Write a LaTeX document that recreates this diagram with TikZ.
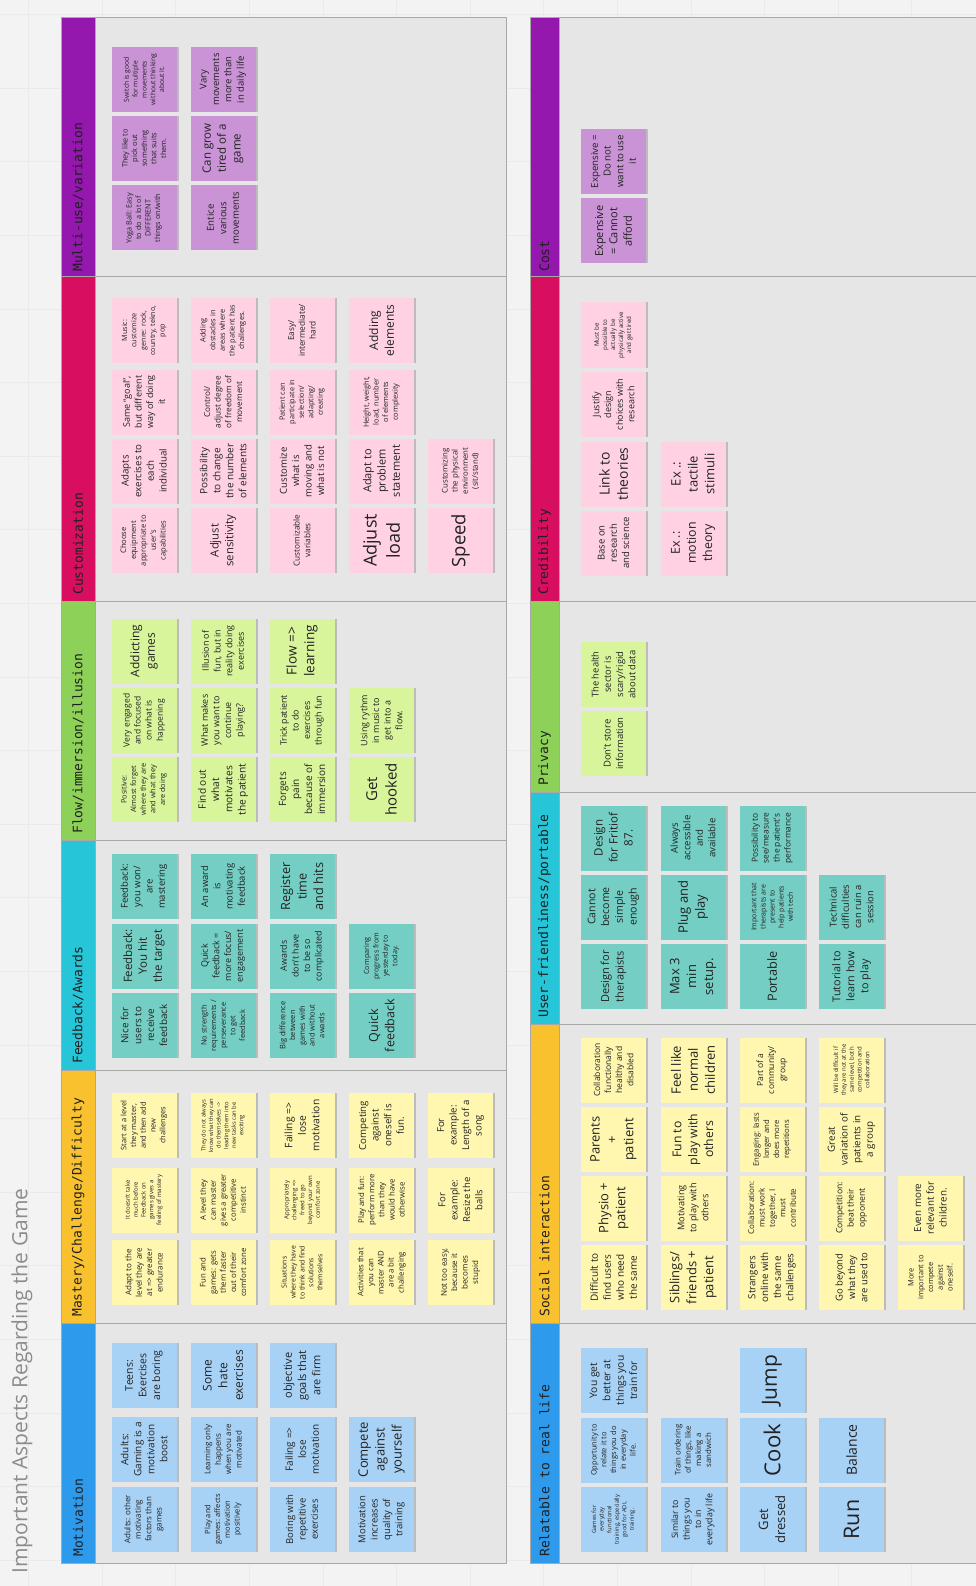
\documentclass[tikz,border=0pt]{standalone}
\usepackage{fontspec}
\setmainfont{Open Sans}
\newfontfamily\hdrfont{DejaVu Sans Mono}
\definecolor{bgpage}{HTML}{F3F3F3}
\definecolor{gridln}{HTML}{EAEAEA}
\definecolor{boardbg}{HTML}{E6E6E6}
\definecolor{boardln}{HTML}{A8A8A8}
\definecolor{hBlue}{HTML}{2D9AEC}
\definecolor{hAmber}{HTML}{F9C12E}
\definecolor{hCyan}{HTML}{26C6D8}
\definecolor{hGreen}{HTML}{8ED159}
\definecolor{hMag}{HTML}{D80F60}
\definecolor{hPurp}{HTML}{9417AE}
\definecolor{nBlue}{HTML}{A7D1F5}
\definecolor{nYellow}{HTML}{FFF7B0}
\definecolor{nTeal}{HTML}{74CEC4}
\definecolor{nGreen}{HTML}{D9F59C}
\definecolor{nPink}{HTML}{FFD1E2}
\definecolor{nPurple}{HTML}{C993D6}
\definecolor{notetext}{HTML}{222222}
\definecolor{hdrtext}{HTML}{202020}
\definecolor{titlegray}{HTML}{8C8C8C}
\begin{document}
\begin{tikzpicture}[x=1pt,y=-1pt,
  note/.style={rotate=90, minimum width=65pt, minimum height=65pt, inner sep=1pt,
    align=center, text=notetext,
    preaction={fill=black, fill opacity=0.18, transform canvas={xshift=2pt}}},
  fs/.style={font={\fontsize{#1}{#1}\linespread{1.3}\selectfont}},
  nb/.style={note, fill=nBlue},
  ny/.style={note, fill=nYellow},
  nt/.style={note, fill=nTeal},
  ng/.style={note, fill=nGreen},
  np/.style={note, fill=nPink},
  nv/.style={note, fill=nPurple},
  hdr/.style={rotate=90, anchor=west, inner sep=0pt, text=hdrtext,
    font={\hdrfont\fontsize{13}{13}\selectfont}},
  board/.style={draw=boardln, line width=1pt, fill=boardbg},
  divider/.style={draw=boardln, line width=1pt},
  titlestyle/.style={rotate=90, anchor=west, inner sep=0pt, text=titlegray,
    font={\fontsize{21}{21}\selectfont}}
]
\useasboundingbox (0,0) rectangle (976,1586);
\fill[bgpage] (0,0) rectangle (976,1586);
\foreach \k in {0,...,13} {\draw[gridln, line width=0.6pt] (28.5+73.6*\k,0) -- (28.5+73.6*\k,1586);}
\foreach \k in {0,...,21} {\draw[gridln, line width=0.6pt] (0,14.5+73.6*\k) -- (976,14.5+73.6*\k);}

% ---------- title ----------
\node[titlestyle] (title) at (22,1574) {Important Aspects Regarding the Game};

% ---------- left board ----------
\path[board] (61,18) rectangle (506,1563);
\fill[hPurp] (61,18) rectangle (95,277);
\fill[hMag] (61,277) rectangle (95,601);
\fill[hGreen] (61,601) rectangle (95,840);
\fill[hCyan] (61,840) rectangle (95,1070);
\fill[hAmber] (61,1070) rectangle (95,1323);
\fill[hBlue] (61,1323) rectangle (95,1563);
\draw[divider] (61,18) rectangle (506,1563);
\draw[divider] (95,18) -- (95,1563);
\foreach \yy in {277,601,840,1070,1323} {\draw[divider] (61,\yy) -- (506,\yy);}

% ---------- right board ----------
\path[board] (530,18) rectangle (976,1563);
\fill[hPurp] (530,18) rectangle (559,277);
\fill[hMag] (530,277) rectangle (559,601);
\fill[hGreen] (530,601) rectangle (559,792);
\fill[hCyan] (530,792) rectangle (559,1024);
\fill[hAmber] (530,1024) rectangle (559,1323);
\fill[hBlue] (530,1323) rectangle (559,1563);
\draw[divider] (530,18) rectangle (976,1563);
\draw[divider] (559,18) -- (559,1563);
\foreach \yy in {277,601,792,1024,1323} {\draw[divider] (530,\yy) -- (976,\yy);}

% ---------- headers ----------
\node[hdr] (hMulti) at (78,272) {Multi-use/variation};
\node[hdr] (hCust) at (78,595) {Customization};
\node[hdr] (hFlow) at (78,834) {Flow/immersion/illusion};
\node[hdr] (hFeed) at (78,1064) {Feedback/Awards};
\node[hdr] (hMast) at (78,1317) {Mastery/Challenge/Difficulty};
\node[hdr] (hMot) at (78,1557) {Motivation};
\node[hdr] (hCost) at (544.5,272) {Cost};
\node[hdr] (hCred) at (544.5,595) {Credibility};
\node[hdr] (hPriv) at (544.5,786) {Privacy};
\node[hdr] (hUser) at (544.5,1018) {User-friendliness/portable};
\node[hdr] (hSoc) at (544.5,1317) {Social interaction};
\node[hdr] (hRel) at (544.5,1557) {Relatable to real life};

% ---------- Motivation ----------
\node[nb, fs=10.5] (mo1) at (144,1375.5) {Teens:\\Exercises\\are boring};
\node[nb, fs=12] (mo2) at (223,1375.5) {Some\\hate\\exercises};
\node[nb, fs=11] (mo3) at (302,1375.5) {objective\\goals that\\are firm};
\node[nb, fs=10] (mo4) at (144,1449.5) {Adults:\\Gaming is a\\motivation\\boost};
\node[nb, fs=8] (mo5) at (223,1449.5) {Learning only\\happens\\when you are\\motivated};
\node[nb, fs=10] (mo6) at (302,1449.5) {Failing =>\\lose\\motivation};
\node[nb, fs=13] (mo7) at (381.5,1449.5) {Compete\\against\\yourself};
\node[nb, fs=8] (mo8) at (144,1519.5) {Adults: other\\motivating\\factors than\\games};
\node[nb, fs=7.5] (mo9) at (223,1519.5) {Play and\\games: affects\\motivation\\positively};
\node[nb, fs=9.5] (mo10) at (302,1519.5) {Boring with\\repetitive\\exercises};
\node[nb, fs=9.5] (mo11) at (381.5,1519.5) {Motivation\\increases\\quality of\\training};

% ---------- Mastery ----------
\node[ny, fs=7.5] (ma1) at (144,1125.5) {Start at a level\\they master,\\and then add\\new\\challenges};
\node[ny, fs=5.8] (ma2) at (223,1125.5) {They do not always\\know what they can\\do themselves ->\\leading them into\\new tasks can be\\exciting};
\node[ny, fs=10.3] (ma3) at (302,1125.5) {Failing =>\\lose\\motivation};
\node[ny, fs=9.7] (ma4) at (381.5,1125.5) {Competing\\against\\oneself is\\fun.};
\node[ny, fs=9.6] (ma5) at (460.5,1125.5) {For\\example:\\Length of a\\song};
\node[ny, fs=6] (ma6) at (144,1200) {It doesn't take\\much before\\Feedback on\\games gives a\\feeling of mastery};
\node[ny, fs=7.7] (ma7) at (223,1200) {A level they\\can master\\gives a greater\\competitive\\instinct};
\node[ny, fs=6] (ma8) at (302,1200) {Appropriately\\challenging =>\\freed to go\\beyond your own\\comfort zone};
\node[ny, fs=7.8] (ma9) at (381.5,1200) {Play and fun:\\perform more\\than they\\would have\\otherwise};
\node[ny, fs=9.5] (ma10) at (460.5,1200) {For\\example:\\Resize the\\balls};
\node[ny, fs=8] (ma11) at (144,1272.5) {Adapt to the\\level they are\\at => greater\\endurance};
\node[ny, fs=7.8] (ma12) at (223,1272.5) {Fun and\\games: gets\\them faster\\out of their\\comfort zone};
\node[ny, fs=6.9] (ma13) at (302,1272.5) {Situations\\where they have\\to think and find\\solutions\\themselves};
\node[ny, fs=7.8] (ma14) at (381.5,1272.5) {Activities that\\you can\\master AND\\are a bit\\challenging};
\node[ny, fs=8] (ma15) at (460.5,1272.5) {Not too easy,\\because it\\becomes\\stupid};

% ---------- Feedback ----------
\node[nt, fs=9.5] (fb1) at (144,886.5) {Feedback:\\you won/\\are\\mastering};
\node[nt, fs=9.4] (fb2) at (223,886.5) {An award\\is\\motivating\\feedback};
\node[nt, fs=12.7] (fb3) at (302,886.5) {Register\\time\\and hits};
\node[nt, fs=11.5] (fb4) at (144,956) {Feedback:\\You hit\\the target};
\node[nt, fs=9] (fb5) at (223,956) {Quick\\feedback =\\more focus/\\engagement};
\node[nt, fs=8.9] (fb6) at (302,956) {Awards\\don't have\\to be so\\complicated};
\node[nt, fs=7.2] (fb7) at (381.5,956) {Comparing\\progress from\\yesterday to\\today.};
\node[nt, fs=9.9] (fb8) at (144,1025.5) {Nice for\\users to\\receive\\feedback};
\node[nt, fs=7.4] (fb9) at (223,1025.5) {No strength\\requirements /\\perseverance\\to get\\feedback};
\node[nt, fs=7.5] (fb10) at (302,1025.5) {Big difference\\between\\games with\\and without\\awards};
\node[nt, fs=12.5] (fb11) at (381.5,1025.5) {Quick\\feedback};

% ---------- Flow ----------
\node[ng, fs=12] (fl1) at (144,651) {Addicting\\games};
\node[ng, fs=9] (fl2) at (223,651) {Illusion of\\fun, but in\\reality doing\\exercises};
\node[ng, fs=13.6] (fl3) at (302,651) {Flow =>\\learning};
\node[ng, fs=8.5] (fl4) at (144,720.5) {Very engaged\\and focused\\on what is\\happening};
\node[ng, fs=9] (fl5) at (223,720.5) {What makes\\you want to\\continue\\playing?};
\node[ng, fs=8.9] (fl6) at (302,720.5) {Trick patient\\to do\\exercises\\through fun};
\node[ng, fs=9] (fl7) at (381.5,720.5) {Using rythm\\in music to\\get into a\\flow.};
\node[ng, fs=7.4] (fl8) at (144,789.5) {Positive:\\Almost forget\\where they are\\and what they\\are doing};
\node[ng, fs=10.2] (fl9) at (223,789.5) {Find out\\what\\motivates\\the patient};
\node[ng, fs=10] (fl10) at (302,789.5) {Forgets\\pain\\because of\\immersion};
\node[ng, fs=15] (fl11) at (381.5,789.5) {Get\\hooked};

% ---------- Customization ----------
\node[np, fs=7.2] (cu1) at (144,330.5) {Music:\\customize\\genre: rock,\\country, tekno,\\pop};
\node[np, fs=7.4] (cu2) at (223,330.5) {Adding\\obstacles in\\areas where\\the patient has\\challenges.};
\node[np, fs=8.3] (cu3) at (302,330.5) {Easy/\\intermediate/\\hard};
\node[np, fs=12] (cu4) at (381.5,330.5) {Adding\\elements};
\node[np, fs=9] (cu5) at (144,402) {Same ``goal'',\\but different\\way of doing\\it};
\node[np, fs=8.2] (cu6) at (223,402) {Control/\\adjust degree\\of freedom of\\movement};
\node[np, fs=7.3] (cu7) at (302,402) {Patient can\\participate in\\selection/\\adapting/\\creating};
\node[np, fs=7.4] (cu8) at (381.5,402) {Height, weight,\\load, number\\of elements\\complexity};
\node[np, fs=9.7] (cu9) at (144,471) {Adapts\\exercises to\\each\\individual};
\node[np, fs=10] (cu10) at (223,471) {Possibility\\to change\\the number\\of elements};
\node[np, fs=9.6] (cu11) at (302,471) {Customize\\what is\\moving and\\what is not};
\node[np, fs=11] (cu12) at (381.5,471) {Adapt to\\problem\\statement};
\node[np, fs=7.8] (cu13) at (460.5,471) {Customizing\\the physical\\environment\\(sit/stand)};
\node[np, fs=7.6] (cu14) at (144,540.5) {Choose\\equipment\\appropriate to\\user's\\capabilities};
\node[np, fs=11.3] (cu15) at (223,540.5) {Adjust\\sensitivity};
\node[np, fs=8.2] (cu16) at (302,540.5) {Customizable\\variables};
\node[np, fs=18] (cu17) at (381.5,540.5) {Adjust\\load};
\node[np, fs=18.5] (cu18) at (460.5,540.5) {Speed};

% ---------- Multi-use ----------
\node[nv, fs=6.8] (mu1) at (144,79.5) {Switch is good\\for multiple\\movements\\without thinking\\about it.};
\node[nv, fs=9.5] (mu2) at (223,79.5) {Vary\\movements\\more than\\in daily life};
\node[nv, fs=7.4] (mu3) at (144,148.5) {They like to\\pick out\\something\\that suits\\them.};
\node[nv, fs=11.5] (mu4) at (223,148.5) {Can grow\\tired of a\\game};
\node[nv, fs=7.3] (mu5) at (144,218) {Yoga Ball: Easy\\to do a lot of\\DIFFERENT\\things on/with};
\node[nv, fs=9.6] (mu6) at (223,218) {Entice\\various\\movements};

% ---------- Relatable ----------
\node[nb, fs=10.3] (re1) at (613.5,1380.5) {You get\\better at\\things you\\train for};
\node[nb, fs=21] (re2) at (772,1380.5) {Jump};
\node[nb, fs=7.5] (re3) at (613.5,1450) {Opportunity to\\relate it to\\things you do\\in everyday\\life.};
\node[nb, fs=7.8] (re4) at (693,1450) {Train ordering\\of things, like\\making a\\sandwich};
\node[nb, fs=22] (re5) at (772,1450) {Cook};
\node[nb, fs=14] (re6) at (851.5,1450) {Balance};
\node[nb, fs=5.8] (re7) at (613.5,1519.5) {Games for\\everyday\\functional\\training, especially\\good for ADL\\training.};
\node[nb, fs=8.8] (re8) at (693,1519.5) {Similar to\\things you\\to in\\everyday life};
\node[nb, fs=13] (re9) at (772,1519.5) {Get\\dressed};
\node[nb, fs=21.5] (re10) at (851.5,1519.5) {Run};

% ---------- Social ----------
\node[ny, fs=8.5] (so1) at (613.5,1070) {Collaboration\\functionally\\healthy and\\disabled};
\node[ny, fs=13] (so2) at (693,1070) {Feel like\\normal\\children};
\node[ny, fs=8.5] (so3) at (772,1070) {Part of a\\community/\\group};
\node[ny, fs=6] (so4) at (851.5,1070) {Will be difficult if\\they are not at the\\same level, both\\competition and\\collaboration};
\node[ny, fs=13] (so5) at (613.5,1139.5) {Parents\\+\\patient};
\node[ny, fs=12.2] (so6) at (693,1139.5) {Fun to\\play with\\others};
\node[ny, fs=7.7] (so7) at (772,1139.5) {Engaging: lasts\\longer and\\does more\\repetitions};
\node[ny, fs=9.8] (so8) at (851.5,1139.5) {Great\\variation of\\patients in\\a group};
\node[ny, fs=13] (so9) at (613.5,1208) {Physio +\\patient};
\node[ny, fs=9.2] (so10) at (693,1208) {Motivating\\to play with\\others};
\node[ny, fs=8] (so11) at (772,1208) {Collaboration:\\must work\\together, I\\must\\contribute};
\node[ny, fs=8.6] (so12) at (851.5,1208) {Competition:\\beat their\\opponent};
\node[ny, fs=9.8] (so13) at (930.5,1208) {Even more\\relevant for\\children.};
\node[ny, fs=10] (so14) at (613.5,1277.5) {Difficult to\\find users\\who need\\the same};
\node[ny, fs=13] (so15) at (693,1277.5) {Siblings/\\friends +\\patient};
\node[ny, fs=9.8] (so16) at (772,1277.5) {Strangers\\online with\\the same\\challenges};
\node[ny, fs=9.5] (so17) at (851.5,1277.5) {Go beyond\\what they\\are used to};
\node[ny, fs=7.5] (so18) at (930.5,1277.5) {More\\important to\\compete\\against\\oneself.};

% ---------- User-friendliness ----------
\node[nt, fs=11.5] (uf1) at (613.5,838) {Design\\for Fritiof\\87.};
\node[nt, fs=9.6] (uf2) at (693,838) {Always\\accessible\\and\\available};
\node[nt, fs=8.4] (uf3) at (772,838) {Possibility to\\see/measure\\the patient's\\performance};
\node[nt, fs=10.6] (uf4) at (613.5,907) {Cannot\\become\\simple\\enough};
\node[nt, fs=13] (uf5) at (693,907) {Plug and\\play};
\node[nt, fs=7] (uf6) at (772,907) {Important that\\therapists are\\present to\\help patients\\with tech};
\node[nt, fs=9.4] (uf7) at (851.5,907) {Technical\\difficulties\\can ruin a\\session};
\node[nt, fs=11] (uf8) at (613.5,976.5) {Design for\\therapists};
\node[nt, fs=13] (uf9) at (693,976.5) {Max 3\\min\\setup.};
\node[nt, fs=12.7] (uf10) at (772,976.5) {Portable};
\node[nt, fs=10.8] (uf11) at (851.5,976.5) {Tutorial to\\learn how\\to play};

% ---------- Privacy ----------
\node[ng, fs=9.4] (pr1) at (613.5,674.5) {The health\\sector is\\scary/rigid\\about data};
\node[ng, fs=9.5] (pr2) at (613.5,743.5) {Don't store\\information};

% ---------- Credibility ----------
\node[np, fs=6.2] (cr1) at (613.5,335) {Must be\\possible to\\actually be\\physically active\\and get tired};
\node[np, fs=9] (cr2) at (613.5,404.5) {Justify\\design\\choices with\\research};
\node[np, fs=13.9] (cr3) at (613.5,474) {Link to\\theories};
\node[np, fs=13] (cr4) at (693,474) {Ex .:\\tactile\\stimuli};
\node[np, fs=9.5] (cr5) at (613.5,543) {Base on\\research\\and science};
\node[np, fs=12.4] (cr6) at (693,543) {Ex .:\\motion\\theory};

% ---------- Cost ----------
\node[nv, fs=9.7] (co1) at (613.5,161.5) {Expensive =\\Do not\\want to use\\it};
\node[nv, fs=11] (co2) at (613.5,231) {Expensive\\= Cannot\\afford};
\end{tikzpicture}
\end{document}
